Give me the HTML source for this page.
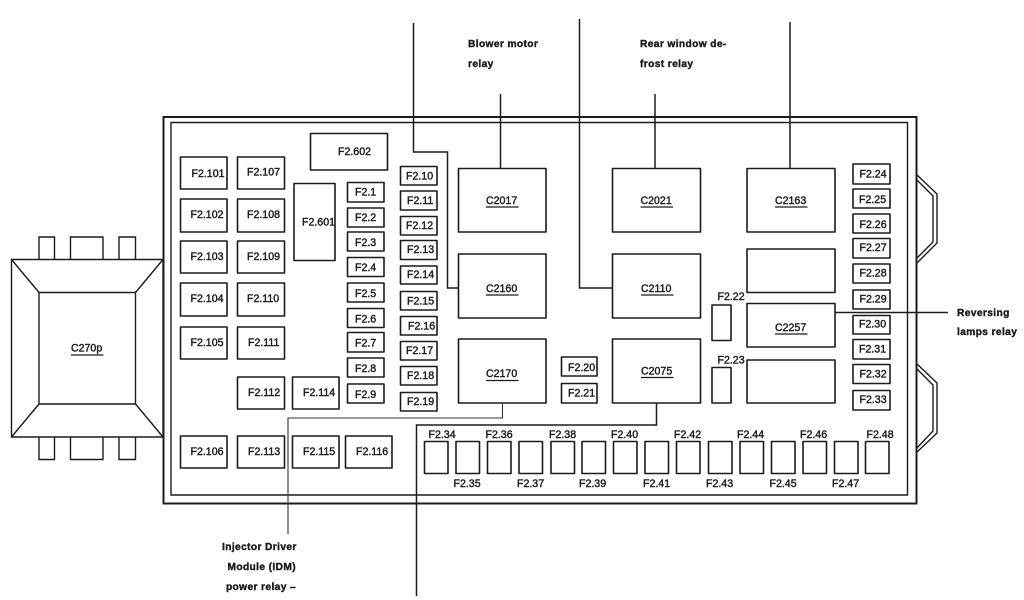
<!DOCTYPE html>
<html><head><meta charset="utf-8"><title>Fuse panel diagram</title>
<style>
html,body{margin:0;padding:0;background:#fff;width:1024px;height:600px;overflow:hidden}
svg{display:block}
.b rect,.b path,.b line,.b polyline{fill:none;stroke:#1c1c1c;stroke-width:1.4}
.b rect{fill:#fff;stroke-width:1.6;stroke-linejoin:round}
.w{fill:none;stroke:#1c1c1c;stroke-width:1.5}
.u{stroke:#1c1c1c;stroke-width:1.2}
text{font-family:"Liberation Sans",sans-serif;font-size:10.6px;fill:#1a1a1a;stroke:#1a1a1a;stroke-width:.42}
.l{font-weight:bold;font-size:10.2px;stroke-width:.38;letter-spacing:.38px}
</style></head><body>
<svg width="1024" height="600" viewBox="0 0 1024 600" xmlns="http://www.w3.org/2000/svg">
<rect width="1024" height="600" fill="#fff"/>
<g class="b">
<!-- Panel frame -->
<path d="M163.5 117H916.5V503.5H163.5Z" style="stroke-width:2"/>
<path d="M171 122.5H907.5V495H171Z"/>
<!-- Side clips -->
<polyline points="916,174 937,194 937,243 916,264"/>
<polyline points="916,179 933,196 933,242 916,259"/>
<polyline points="916,363 937,383 937,433 916,453"/>
<polyline points="916,368 933,385 933,431 916,449"/>
<!-- Connector C270p -->
<path d="M11.5 259.5H163V437H11.5Z"/>
<path d="M39 292.5H135.5V404H39Z"/>
<path d="M11.5 259.5L39 292.5M163 259.5L135.5 292.5M11.5 437L39 404M163 437L135.5 404"/>
<path d="M39 259.5V237H54.5V259.5M70.5 259.5V237H103V259.5M119 259.5V237H135.5V259.5"/>
<path d="M39 437V459.5H54.5V437M70.5 437V459.5H103V437M119 437V459.5H135.5V437"/>
<!-- Left large fuses -->
<rect x="180.5" y="157" width="46.5" height="32"/><rect x="237.5" y="157" width="47" height="32"/>
<rect x="180.5" y="199" width="46.5" height="33"/><rect x="237.5" y="199" width="47" height="33"/>
<rect x="180.5" y="241" width="46.5" height="32"/><rect x="237.5" y="241" width="47" height="32"/>
<rect x="180.5" y="283" width="46.5" height="33"/><rect x="237.5" y="283" width="47" height="33"/>
<rect x="180.5" y="327" width="46.5" height="32"/><rect x="237.5" y="327" width="47" height="32"/>
<rect x="237.5" y="377" width="47" height="32"/><rect x="292.5" y="377" width="46.5" height="32"/>
<rect x="180.5" y="436" width="46.5" height="32"/><rect x="237.5" y="436" width="47" height="32"/>
<rect x="292.5" y="436" width="46.5" height="32"/><rect x="345.5" y="436" width="46.5" height="32"/>
<rect x="310.5" y="133.5" width="77" height="36.5"/><rect x="294" y="183.5" width="41" height="77"/>
<!-- F2.1 - F2.9 -->
<rect x="347.5" y="182.5" width="36.5" height="19.5"/><rect x="347.5" y="208" width="36.5" height="19"/>
<rect x="347.5" y="232" width="36.5" height="19"/><rect x="347.5" y="257.5" width="36.5" height="19"/>
<rect x="347.5" y="283" width="36.5" height="19"/><rect x="347.5" y="308.5" width="36.5" height="19"/>
<rect x="347.5" y="332.5" width="36.5" height="19.5"/><rect x="347.5" y="358" width="36.5" height="19"/>
<rect x="347.5" y="384" width="36.5" height="19"/>
<!-- F2.10 - F2.19 -->
<rect x="400.5" y="166.5" width="36.5" height="18.5"/><rect x="400.5" y="191" width="36.5" height="19"/>
<rect x="400.5" y="216.5" width="36.5" height="18.5"/><rect x="400.5" y="240.5" width="36.5" height="19"/>
<rect x="400.5" y="266" width="36.5" height="18"/><rect x="400.5" y="291.5" width="36.5" height="18.5"/>
<rect x="400.5" y="316.5" width="36.5" height="18.5"/><rect x="400.5" y="341.5" width="36.5" height="18.5"/>
<rect x="400.5" y="366.5" width="36.5" height="18.5"/><rect x="400.5" y="392.5" width="36.5" height="18.5"/>
<!-- Relay blocks -->
<rect x="458.5" y="168.5" width="87.5" height="63.5"/><rect x="612.5" y="168.5" width="88" height="63.5"/>
<rect x="747" y="168.5" width="88" height="63.5"/>
<rect x="458.5" y="254" width="87.5" height="64"/><rect x="612.5" y="254" width="88" height="64"/>
<rect x="458.5" y="339" width="87.5" height="64"/><rect x="612.5" y="339" width="88" height="64"/>
<rect x="747" y="249" width="88" height="43.5"/><rect x="747" y="303.5" width="88" height="43.5"/>
<rect x="747" y="360" width="88" height="43"/>
<rect x="712" y="305" width="19" height="35.5"/><rect x="712" y="367.5" width="19" height="35.5"/>
<rect x="561.5" y="357" width="35.5" height="19"/><rect x="561.5" y="383.5" width="35.5" height="19.5"/>
<!-- Right column -->
<rect x="853" y="164" width="37" height="20"/><rect x="853" y="189" width="37" height="19"/>
<rect x="853" y="214" width="37" height="19"/><rect x="853" y="238.5" width="37" height="19.5"/>
<rect x="853" y="264" width="37" height="19"/><rect x="853" y="290" width="37" height="19"/>
<rect x="853" y="315.5" width="37" height="18.5"/><rect x="853" y="339.5" width="37" height="19.5"/>
<rect x="853" y="364.5" width="37" height="19"/><rect x="853" y="390.5" width="37" height="19.5"/>
<!-- Bottom row -->
<rect x="424.5" y="441.5" width="23.5" height="32"/><rect x="456" y="441.5" width="23.5" height="32"/>
<rect x="487.5" y="441.5" width="23.5" height="32"/><rect x="519" y="441.5" width="23.5" height="32"/>
<rect x="551" y="441.5" width="23.5" height="32"/><rect x="582" y="441.5" width="23.5" height="32"/>
<rect x="613.5" y="441.5" width="23.5" height="32"/><rect x="645" y="441.5" width="23.5" height="32"/>
<rect x="676.5" y="441.5" width="23.5" height="32"/><rect x="708.5" y="441.5" width="23.5" height="32"/>
<rect x="740" y="441.5" width="23.5" height="32"/><rect x="771.5" y="441.5" width="23.5" height="32"/>
<rect x="803" y="441.5" width="23.5" height="32"/><rect x="834.5" y="441.5" width="23.5" height="32"/>
<rect x="865.5" y="441.5" width="23.5" height="32"/>
</g>
<!-- Leader wires -->
<path class="w" d="M413.5 23V152H447.5V288H458.5"/>
<path class="w" d="M579.5 19V288H612.5"/>
<path class="w" d="M500.5 94V168.5"/>
<path class="w" d="M655 94V168.5"/>
<path class="w" d="M790 22V168.5"/>
<path class="w" d="M502.5 403V418H288V534" style="stroke-width:1.1;stroke:#333"/>
<path class="w" d="M656.5 403V425H416.5V596"/>
<path class="w" d="M835 312.5H948"/>
<!-- Underlines -->
<path class="u" d="M486 207H518.5M640.5 207H673M775 207H807.5M486 295H518.5M641 295H673.5M486 380.5H518.5M641 377.5H673.5M775 334H807.5M71 355H103.5"/>
<!-- Fuse labels -->
<text x="191.5" y="177">F2.101</text><text x="247" y="175.5">F2.107</text>
<text x="190.5" y="218">F2.102</text><text x="247" y="218">F2.108</text>
<text x="190.5" y="260">F2.103</text><text x="247" y="260">F2.109</text>
<text x="190.5" y="302">F2.104</text><text x="247" y="302">F2.110</text>
<text x="190.5" y="346">F2.105</text><text x="248" y="346">F2.111</text>
<text x="248" y="396">F2.112</text><text x="303" y="396">F2.114</text>
<text x="190.5" y="455">F2.106</text><text x="248" y="455">F2.113</text>
<text x="303" y="455">F2.115</text><text x="356" y="455">F2.116</text>
<text x="338" y="155">F2.602</text><text x="302" y="225.5">F2.601</text>
<text x="355" y="195.5">F2.1</text><text x="355" y="221">F2.2</text><text x="355" y="246">F2.3</text>
<text x="355" y="271">F2.4</text><text x="355" y="297">F2.5</text><text x="355" y="322.5">F2.6</text>
<text x="355" y="346.5">F2.7</text><text x="355" y="372">F2.8</text><text x="355" y="398">F2.9</text>
<text x="406" y="179.5">F2.10</text><text x="407" y="204">F2.11</text><text x="406" y="229">F2.12</text>
<text x="407" y="253">F2.13</text><text x="407" y="278">F2.14</text><text x="407" y="304.5">F2.15</text>
<text x="408" y="329.5">F2.16</text><text x="406" y="354">F2.17</text><text x="407" y="379">F2.18</text>
<text x="407" y="405">F2.19</text>
<text x="568" y="371">F2.20</text><text x="568" y="396.7">F2.21</text>
<text x="717.5" y="300">F2.22</text><text x="717.5" y="363.5">F2.23</text>
<text x="859.5" y="177.5">F2.24</text><text x="859" y="203">F2.25</text><text x="859.5" y="228">F2.26</text>
<text x="859.5" y="251">F2.27</text><text x="859.5" y="276.7">F2.28</text><text x="859.5" y="302.7">F2.29</text>
<text x="859" y="327.7">F2.30</text><text x="859" y="352.3">F2.31</text><text x="859.5" y="377.3">F2.32</text>
<text x="859.5" y="403">F2.33</text>
<text x="428.5" y="438">F2.34</text><text x="485.5" y="438">F2.36</text><text x="549" y="438">F2.38</text>
<text x="611" y="438">F2.40</text><text x="674" y="438">F2.42</text><text x="737" y="438">F2.44</text>
<text x="800" y="438">F2.46</text><text x="866.5" y="438">F2.48</text>
<text x="453.5" y="487">F2.35</text><text x="517" y="487">F2.37</text><text x="579" y="487">F2.39</text>
<text x="643" y="487">F2.41</text><text x="706" y="487">F2.43</text><text x="769.5" y="487">F2.45</text>
<text x="832" y="487">F2.47</text>
<!-- Connector labels -->
<text x="486" y="204">C2017</text><text x="640.5" y="204">C2021</text><text x="775" y="204">C2163</text>
<text x="486" y="292">C2160</text><text x="641" y="292">C2110</text>
<text x="486" y="377">C2170</text><text x="641" y="374.5">C2075</text>
<text x="775" y="331">C2257</text><text x="71" y="351.7">C270p</text>
<!-- Callouts -->
<text class="l" x="468" y="47">Blower motor</text><text class="l" x="468" y="67">relay</text>
<text class="l" x="640" y="47">Rear window de-</text><text class="l" x="640" y="67">frost relay</text>
<text class="l" x="957" y="316">Reversing</text><text class="l" x="957" y="335">lamps relay</text>
<text class="l" x="222" y="550">Injector Driver</text>
<text class="l" x="296" y="570" text-anchor="end">Module (IDM)</text>
<text class="l" x="296" y="590" text-anchor="end">power relay –</text>
</svg>
</body></html>
